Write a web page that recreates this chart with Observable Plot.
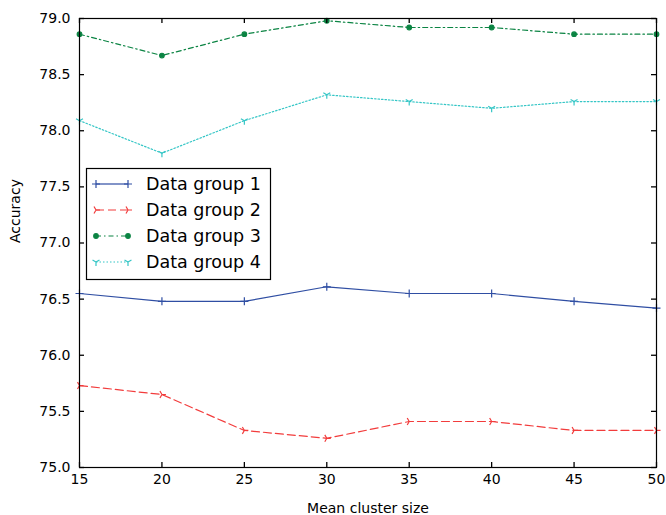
<!DOCTYPE html>
<html>
<head>
<meta charset="utf-8">
<script src="https://cdn.jsdelivr.net/npm/d3@7"></script>
<script src="https://cdn.jsdelivr.net/npm/@observablehq/plot@0.6"></script>
<style>
  html, body { margin: 0; padding: 0; background: #fff; }
  #chart { width: 666px; height: 515px; }
</style>
</head>
<body>
<div id="chart"></div>
<script>
const clusterSizes = [15, 20, 25, 30, 35, 40, 45, 50];
const group1 = [76.55, 76.48, 76.48, 76.61, 76.55, 76.55, 76.48, 76.42];
const group2 = [75.73, 75.65, 75.33, 75.26, 75.41, 75.41, 75.33, 75.33];
const group3 = [78.86, 78.67, 78.86, 78.98, 78.92, 78.92, 78.86, 78.86];
const group4 = [78.09, 77.80, 78.09, 78.32, 78.26, 78.20, 78.26, 78.26];
const seriesNames = ["Data group 1", "Data group 2", "Data group 3", "Data group 4"];
const xTicks = [15, 20, 25, 30, 35, 40, 45, 50];
const yTicks = [75.0, 75.5, 76.0, 76.5, 77.0, 77.5, 78.0, 78.5, 79.0];

const colors = ["#2f4ea3", "#f23c3c", "#0b8443", "#35c6c6"];
const dashes = [null, "8,4", "5,3,1.5,3", "1.5,2"];

const rad = size => Math.sqrt(size / Math.PI);
const plusSym = { draw(ctx, size) { const r = rad(size); ctx.moveTo(-r, 0); ctx.lineTo(r, 0); ctx.moveTo(0, -r); ctx.lineTo(0, r); } };
const triRightSym = { draw(ctx, size) { const r = rad(size);
  ctx.moveTo(0, 0); ctx.lineTo(r, 0);
  ctx.moveTo(0, 0); ctx.lineTo(-r * 0.5, -r * 0.866);
  ctx.moveTo(0, 0); ctx.lineTo(-r * 0.5, r * 0.866); } };
const dotSym = { draw(ctx, size) { const r = rad(size); ctx.moveTo(r, 0); ctx.arc(0, 0, r, 0, 2 * Math.PI); ctx.closePath(); } };
const triDownSym = { draw(ctx, size) { const r = rad(size);
  ctx.moveTo(0, 0); ctx.lineTo(0, r);
  ctx.moveTo(0, 0); ctx.lineTo(-r * 0.866, -r * 0.5);
  ctx.moveTo(0, 0); ctx.lineTo(r * 0.866, -r * 0.5); } };
const symbols = [plusSym, triRightSym, dotSym, triDownSym];
const symR = [4, 4, 2.3, 4];
const symFilled = [false, false, true, false];

const allGroups = [group1, group2, group3, group4];
const tables = allGroups.map((vals, i) => clusterSizes.map((x, j) => ({ x, y: vals[j], series: seriesNames[i] })));

const W = 666, H = 515, ML = 79, MR = 10, MT = 18, MB = 48;
const frameW = W - ML - MR, frameH = H - MT - MB, TICK = 5;

const marks = [];
tables.forEach((rows, i) => {
  marks.push(Plot.line(rows, { x: "x", y: "y", stroke: colors[i], strokeWidth: 1.2, strokeDasharray: dashes[i] }));
  marks.push(Plot.dot(rows, {
    x: "x", y: "y", r: symR[i], symbol: symbols[i],
    stroke: colors[i], strokeWidth: 1.2,
    fill: symFilled[i] ? colors[i] : "none"
  }));
});

const plot = Plot.plot({
  width: W, height: H,
  marginLeft: ML, marginRight: MR, marginTop: MT, marginBottom: MB,
  style: { fontFamily: "DejaVu Sans", fontSize: "14px", color: "#000", background: "#fff", overflow: "visible" },
  x: { domain: [15, 50], label: null },
  y: { domain: [75, 79], label: null },
  marks: [
    ...marks,
    // inward ticks on all four sides
    Plot.tickX(xTicks, { x: d => d, insetTop: frameH - TICK, stroke: "#000", strokeWidth: 1.3 }),
    Plot.tickX(xTicks, { x: d => d, insetBottom: frameH - TICK, stroke: "#000", strokeWidth: 1.3 }),
    Plot.tickY(yTicks, { y: d => d, insetRight: frameW - TICK, stroke: "#000", strokeWidth: 1.3 }),
    Plot.tickY(yTicks, { y: d => d, insetLeft: frameW - TICK, stroke: "#000", strokeWidth: 1.3 }),
    Plot.frame({ stroke: "#000", strokeWidth: 1.2 }),
    Plot.axisX({ ticks: xTicks, anchor: "bottom", tickSize: 0, tickPadding: 7, tickFormat: d3.format("d"), label: null, fontSize: 14 }),
    Plot.axisY({ ticks: yTicks, anchor: "left", tickSize: 0, tickPadding: 9, tickFormat: d3.format(".1f"), label: null, fontSize: 14 }),
    Plot.text(["Mean cluster size"], { frameAnchor: "bottom", dy: 41, text: d => d, fontSize: 14, lineAnchor: "middle" }),
    Plot.text(["Accuracy"], { frameAnchor: "left", dx: -64, rotate: -90, text: d => d, fontSize: 14, lineAnchor: "middle" })
  ]
});

document.getElementById("chart").appendChild(plot);

// Legend (inside the plot)
const svg = d3.select(plot);
const lg = svg.append("g").attr("font-family", "DejaVu Sans").attr("font-size", "17.5px").attr("text-anchor", "start");
lg.append("rect").attr("x", 86.5).attr("y", 168.5).attr("width", 184).attr("height", 111)
  .attr("fill", "#fff").attr("stroke", "#000").attr("stroke-width", 1.2);
const rowY = [184, 210, 236, 262];
seriesNames.forEach((name, i) => {
  const y = rowY[i];
  lg.append("line").attr("x1", 96).attr("x2", 128).attr("y1", y).attr("y2", y)
    .attr("stroke", colors[i]).attr("stroke-width", 1.2)
    .attr("stroke-dasharray", dashes[i]);
  const path = d3.symbol().type(symbols[i]).size(Math.PI * symR[i] * symR[i])();
  [96, 128].forEach(px => {
    lg.append("path").attr("d", path).attr("transform", `translate(${px},${y})`)
      .attr("stroke", colors[i]).attr("stroke-width", 1.2)
      .attr("fill", symFilled[i] ? colors[i] : "none");
  });
  lg.append("text").attr("x", 146).attr("y", y).attr("dy", "0.35em").attr("fill", "#000").attr("text-anchor", "start").text(name);
});
</script>
</body>
</html>
